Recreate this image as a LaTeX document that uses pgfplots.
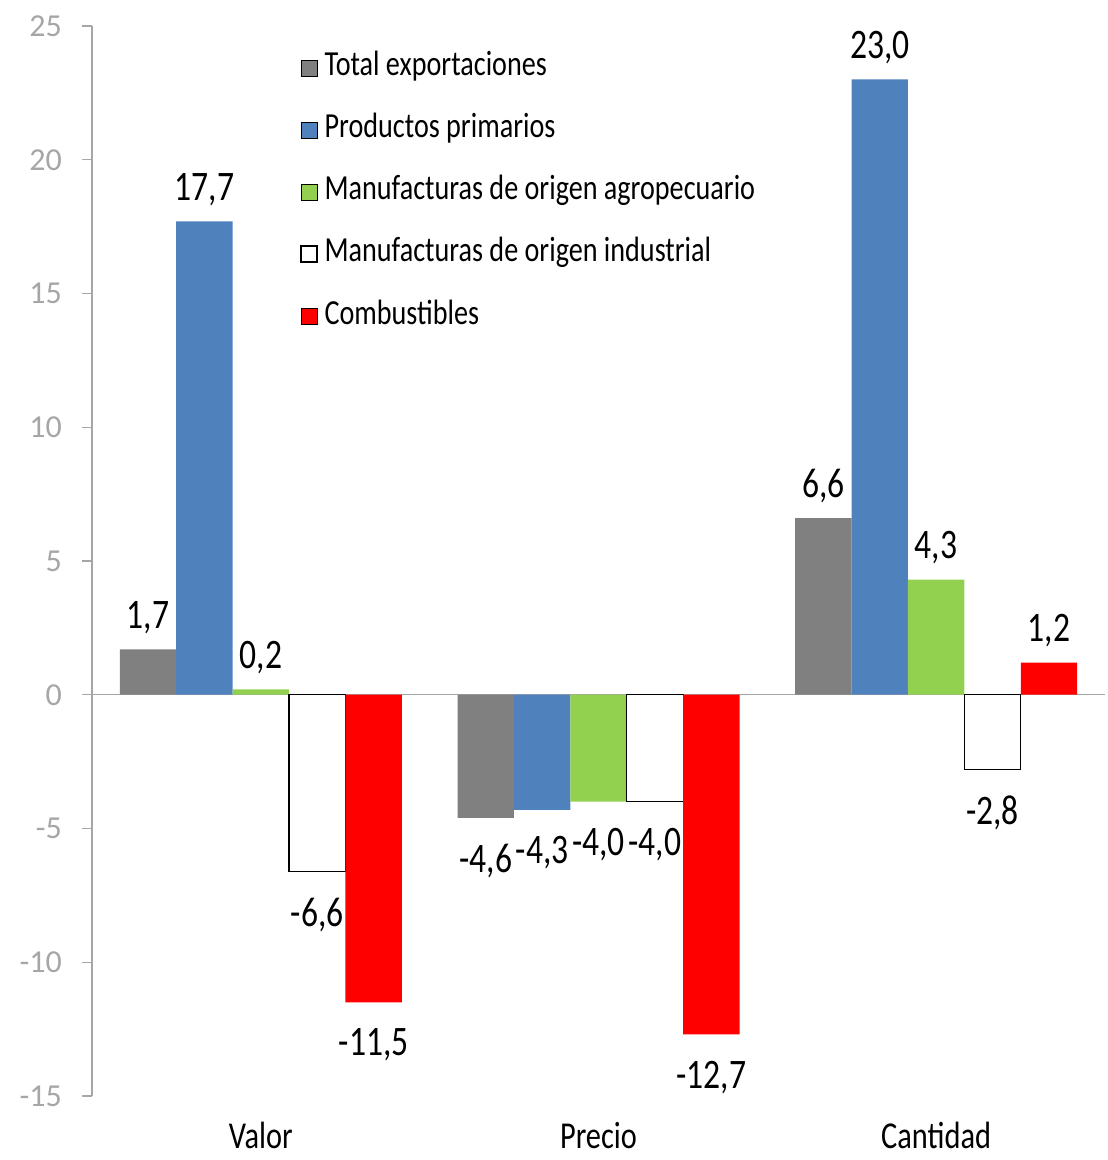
\documentclass[border=0pt]{standalone}
\usepackage{fontspec}
\setmainfont{Carlito}[FakeStretch=0.8]
\newfontfamily\tickfont{Carlito}
\usepackage{pgfplots}
\pgfplotsset{compat=1.18}
\definecolor{cgray}{RGB}{128,128,128}
\definecolor{cblue}{RGB}{79,129,189}
\definecolor{cgreen}{RGB}{146,208,80}
\definecolor{cred}{RGB}{255,0,0}
\definecolor{axgray}{RGB}{166,166,166}
\begin{document}
\begin{tikzpicture}
\begin{axis}[
  at={(0,0)}, anchor=south west,
  scale only axis, width=506.5pt, height=535pt,
  xmin=-0.5, xmax=2.5, ymin=-15, ymax=25,
  ybar=0pt, bar width=28.2pt,
  axis x line*=bottom, axis y line*=left,
  x axis line style={draw=none},
  y axis line style={draw=axgray, line width=0.6pt},
  xtick={0,1,2}, xticklabels={Valor,Precio,Cantidad},
  xtick style={draw=none},
  ytick={-15,-10,...,25},
  ytick style={draw=axgray, line width=0.6pt},
  tick align=outside, major tick length=5pt,
  yticklabel style={font=\tickfont\fontsize{16}{16}\selectfont, text=axgray, xshift=-6.5pt, /pgf/number format/assume math mode=true},
  xticklabel style={font=\fontsize{19}{19}\selectfont, text=black, anchor=north, inner sep=0pt, yshift=-8pt},
  extra y ticks={0}, extra y tick labels={},
  extra y tick style={grid=major, major grid style={draw=axgray, line width=0.6pt}, major tick length=0pt},
  nodes near coords={\pgfmathprintnumber[fixed,fixed zerofill,precision=1,use comma,assume math mode=true]{\pgfplotspointmeta}},
  visualization depends on={rawy \as \rawy},
  nodes near coords style={font=\fontsize{21}{21}\selectfont, text=black, inner xsep=0pt, inner ysep=7.5pt, yshift={ifthenelse(\rawy<0,-5.5,0)}},
  legend style={draw=none, fill=none, at={(0.2057,0.9757)}, anchor=north west, inner sep=0pt, outer sep=0pt, row sep=15pt, column sep=3.5pt, font=\fontsize{17.6}{17.6}\selectfont, nodes={inner sep=0pt, text height=12pt, text depth=4pt}},
  legend cell align=left,
  legend image code/.code={\draw[#1] (0pt,-4pt) rectangle (8pt,4pt);},
]
\addplot[fill=cgray, draw=none] coordinates {(0,1.7) (1,-4.6) (2,6.6)};
\addlegendentry{Total exportaciones}
\addplot[fill=cblue, draw=none] coordinates {(0,17.7) (1,-4.3) (2,23.0)};
\addlegendentry{Productos primarios}
\addplot[fill=cgreen, draw=none] coordinates {(0,0.2) (1,-4.0) (2,4.3)};
\addlegendentry{Manufacturas de origen agropecuario}
\addplot[fill=white, draw=black, line width=0.6pt] coordinates {(0,-6.6) (1,-4.0) (2,-2.8)};
\addlegendentry{Manufacturas de origen industrial}
\addplot[fill=cred, draw=none] coordinates {(0,-11.5) (1,-12.7) (2,1.2)};
\addlegendentry{Combustibles}
\end{axis}
\useasboundingbox (-46pt,-32pt) rectangle (507.5pt,548pt);
\end{tikzpicture}
\end{document}
